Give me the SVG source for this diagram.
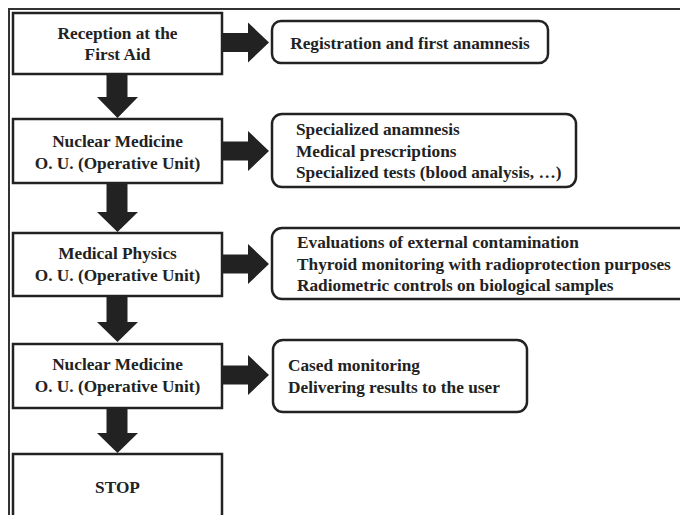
<svg xmlns="http://www.w3.org/2000/svg" width="680" height="515" viewBox="0 0 680 515">
<style>
.box{fill:#fff;stroke:#222;stroke-width:2.5}
.rbox{fill:#fff;stroke:#222;stroke-width:2.5}
.arr{fill:#222;stroke:none}
.frame{fill:none;stroke:#333;stroke-width:2}
text{font-family:"Liberation Serif","Times New Roman",serif;font-weight:bold;font-size:17.3px;fill:#222}
.c{text-anchor:middle}
</style>
<rect width="680" height="515" fill="#fff"/>
<path class="frame" d="M9,516 V9 H681"/>
<g id="connectors">
<polygon class="arr" points="222,33 248,33 248,22.5 269,42.5 248,62.5 248,52 222,52"/>
<polygon class="arr" points="222,141.5 248,141.5 248,131 269,151 248,171 248,160.5 222,160.5"/>
<polygon class="arr" points="222,254.5 248,254.5 248,244 269,264 248,284 248,273.5 222,273.5"/>
<polygon class="arr" points="222,365.5 248,365.5 248,355 269,375 248,395 248,384.5 222,384.5"/>
<polygon class="arr" points="106.5,74 127.5,74 127.5,97 138,97 117.5,118 97,97 106.5,97"/>
<polygon class="arr" points="106.5,183 127.5,183 127.5,212 138,212 117.5,232 97,212 106.5,212"/>
<polygon class="arr" points="106.5,296 127.5,296 127.5,322 138,322 117.5,342 97,322 106.5,322"/>
<polygon class="arr" points="106.5,408 127.5,408 127.5,433 138,433 117.5,453 97,433 106.5,433"/>
</g>
<g id="reception">
<rect class="box" x="13" y="13" width="209" height="61"/>
<text class="c" x="117.5" y="39">Reception at the</text>
<text class="c" x="117.5" y="60">First Aid</text>
</g>
<g id="nuclear1">
<rect class="box" x="13" y="119" width="209" height="64"/>
<text class="c" x="117.5" y="147">Nuclear Medicine</text>
<text class="c" x="117.5" y="169">O. U. (Operative Unit)</text>
</g>
<g id="physics">
<rect class="box" x="13" y="233" width="209" height="63"/>
<text class="c" x="117.5" y="259">Medical Physics</text>
<text class="c" x="117.5" y="281">O. U. (Operative Unit)</text>
</g>
<g id="nuclear2">
<rect class="box" x="13" y="344" width="209" height="64"/>
<text class="c" x="117.5" y="370">Nuclear Medicine</text>
<text class="c" x="117.5" y="392">O. U. (Operative Unit)</text>
</g>
<g id="stop">
<rect class="box" x="13" y="454" width="209" height="70"/>
<text class="c" x="117.5" y="493">STOP</text>
</g>
<g id="registration">
<rect class="rbox" x="272" y="21" width="276" height="42" rx="9"/>
<text class="c" x="410" y="49">Registration and first anamnesis</text>
</g>
<g id="specialized">
<rect class="rbox" x="272" y="114" width="304" height="73" rx="10"/>
<text x="296" y="135">Specialized anamnesis</text>
<text x="296" y="157">Medical prescriptions</text>
<text x="296" y="178">Specialized tests (blood analysis, …)</text>
</g>
<g id="evaluations">
<rect class="rbox" x="272" y="228" width="420" height="71" rx="10"/>
<text x="297" y="248">Evaluations of external contamination</text>
<text x="297" y="270">Thyroid monitoring with radioprotection purposes</text>
<text x="297" y="291">Radiometric controls on biological samples</text>
</g>
<g id="monitoring">
<rect class="rbox" x="273" y="340" width="254" height="72" rx="10"/>
<text x="288" y="371">Cased monitoring</text>
<text x="288" y="393">Delivering results to the user</text>
</g>
</svg>
